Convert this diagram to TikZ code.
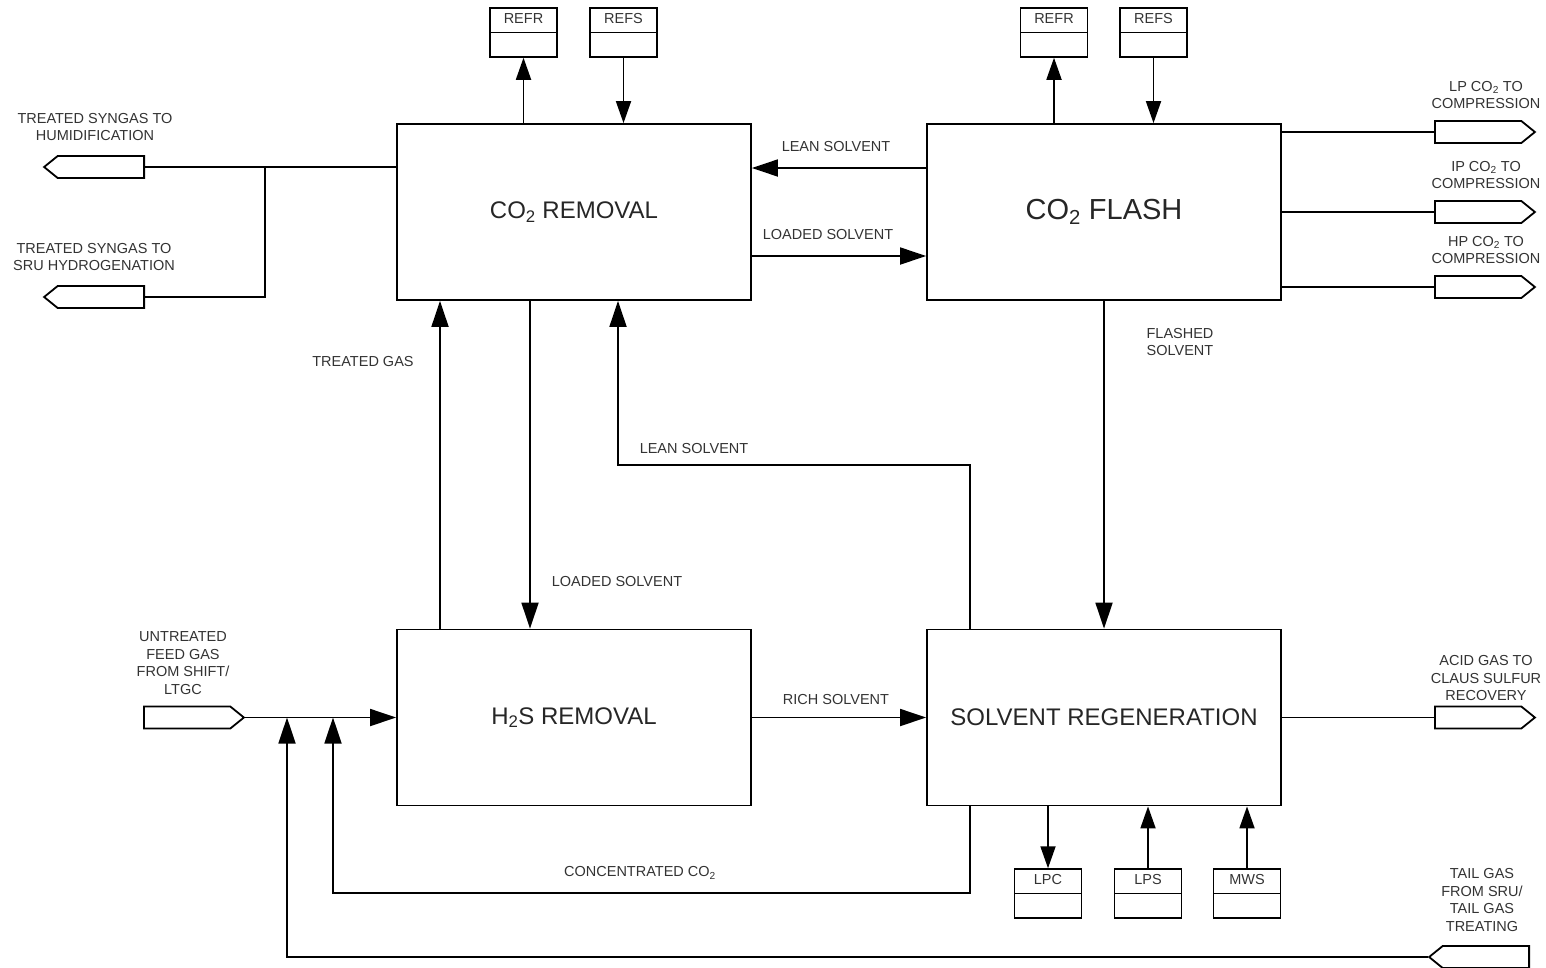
\documentclass[tikz,border=0pt]{standalone}
\usepackage{fontspec}
\setmainfont{Liberation Sans}
\usetikzlibrary{arrows.meta,shapes.symbols,shapes.multipart}

\begin{document}
\begin{tikzpicture}[x=1pt, y=-1pt, line width=1.8pt, line join=miter,
  unit/.style={draw, minimum width=354pt, minimum height=176pt, inner sep=0pt,
    font=\fontsize{24}{28}\selectfont, text=black!85},
  util/.style={draw, rectangle split, rectangle split parts=2, text width=59pt,
    align=center, inner xsep=4pt, inner ysep=3.5pt, line width=1.5pt,
    font=\fontsize{14.5}{16}\selectfont, text=black!80},
  tagE/.style={draw, signal, signal to=east, signal pointer angle=78,
    minimum width=100pt, minimum height=22pt, inner sep=0pt, anchor=west},
  tagW/.style={draw, signal, signal to=west, signal pointer angle=78,
    minimum width=100pt, minimum height=22pt, inner sep=0pt, anchor=east},
  flow/.style={-{Triangle[length=26pt,width=17pt]}},
  flowsm/.style={-{Triangle[length=22pt,width=15pt]}},
  lbl/.style={align=center, inner sep=0pt,
    font=\fontsize{14.5}{17.5}\selectfont, text=black!80}]

  %% ════ 主单元（四个大框）════
  \node[unit] (co2rem)    at (574,212)   {CO\textsubscript{2} REMOVAL};
  \node[unit, font=\fontsize{29}{33}\selectfont] (co2flash) at (1104,212) {CO\textsubscript{2} FLASH};
  \node[unit] (h2srem)    at (574,717.5) {H\textsubscript{2}S REMOVAL};
  \node[unit] (solvregen) at (1104,717.5) {SOLVENT REGENERATION};

  %% ════ 公用工程小框 ════
  \node[util] (refr1) at (523.5,32.5) {REFR\strut\nodepart{two}\strut};
  \node[util] (refs1) at (623.5,32.5) {REFS\strut\nodepart{two}\strut};
  \node[util] (refr2) at (1054,32.5)  {REFR\strut\nodepart{two}\strut};
  \node[util] (refs2) at (1153.5,32.5) {REFS\strut\nodepart{two}\strut};
  \node[util] (lpc)   at (1048,893.5) {LPC\strut\nodepart{two}\strut};
  \node[util] (lps)   at (1148,893.5) {LPS\strut\nodepart{two}\strut};
  \node[util] (mws)   at (1247,893.5) {MWS\strut\nodepart{two}\strut};

  %% ════ 边界物流标签（平头一侧定位）════
  \node[tagW] (syngashum) at (145,167)    {};
  \node[tagW] (syngassru) at (145,297)    {};
  \node[tagE] (feed)      at (143,717.5)  {};
  \node[tagE] (lpco2)     at (1434,132)   {};
  \node[tagE] (ipco2)     at (1434,212)   {};
  \node[tagE] (hpco2)     at (1434,287)   {};
  \node[tagE] (acidgas)   at (1434,717.5) {};
  \node[tagW] (tailgas)   at (1530,957)   {};

  %% ════ 折点 ════
  \coordinate (synsplit) at (265,167);
  \coordinate (leanbend) at (618,465);
  \coordinate (concbend) at (333,893);
  \coordinate (concin)   at (333,717.5);
  \coordinate (tailin)   at (287,717.5);

  %% ════ 连线 ════
  \draw[flowsm] (co2rem.north -| refr1.south) -- (refr1.south);
  \draw[flowsm] (refs1.south) -- (co2rem.north -| refs1.south);
  \draw[flowsm] (co2flash.north -| refr2.south) -- (refr2.south);
  \draw[flowsm] (refs2.south) -- (co2flash.north -| refs2.south);
  \draw[flowsm] (solvregen.south -| lpc.north) -- (lpc.north);
  \draw[flowsm] (lps.north) -- (solvregen.south -| lps.north);
  \draw[flowsm] (mws.north) -- (solvregen.south -| mws.north);

  \draw (co2rem.west |- syngashum.east) -- (syngashum.east);
  \draw (synsplit) |- (syngassru.east);

  \draw (co2flash.east |- lpco2.west) -- (lpco2.west);
  \draw (co2flash.east |- ipco2.west) -- (ipco2.west);
  \draw (co2flash.east |- hpco2.west) -- (hpco2.west);
  \draw (solvregen.east) -- (acidgas.west);

  \draw[flow] ([yshift=44pt]co2flash.west) -- ([yshift=44pt]co2rem.east);
  \draw[flow] ([yshift=-44pt]co2rem.east) -- ([yshift=-44pt]co2flash.west);
  \draw[flow] ([xshift=-134pt]h2srem.north) -- ([xshift=-134pt]co2rem.south);
  \draw[flow] ([xshift=-44pt]co2rem.south) -- ([xshift=-44pt]h2srem.north);
  \draw[flow] ([xshift=-134pt]solvregen.north) |- (leanbend) -- ([xshift=44pt]co2rem.south);
  \draw[flow] (co2flash.south) -- (solvregen.north);
  \draw[flow] (h2srem.east) -- (solvregen.west);
  \draw[flow] (feed.east) -- (h2srem.west);
  \draw[flow] ([xshift=-134pt]solvregen.south) |- (concbend) -- (concin);
  \draw[flow] (tailgas.west) -| (tailin);

  %% ════ 物流文字 ════
  \node[lbl] (lblhum)   at (95,127)   {TREATED SYNGAS TO\\HUMIDIFICATION};
  \node[lbl] (lblsru)   at (94,257)   {TREATED SYNGAS TO\\SRU HYDROGENATION};
  \node[lbl] (lbllp)    at (1486,95)  {LP CO\textsubscript{2} TO\\COMPRESSION};
  \node[lbl] (lblip)    at (1486,175) {IP CO\textsubscript{2} TO\\COMPRESSION};
  \node[lbl] (lblhp)    at (1486,250) {HP CO\textsubscript{2} TO\\COMPRESSION};
  \node[lbl] (lblacid)  at (1486,678) {ACID GAS TO\\CLAUS SULFUR\\RECOVERY};
  \node[lbl] (lbltail)  at (1482,900) {TAIL GAS\\FROM SRU/\\TAIL GAS\\TREATING};
  \node[lbl] (lblfeed)  at (183,663)  {UNTREATED\\FEED GAS\\FROM SHIFT/\\LTGC};
  \node[lbl] (lbllean1) at (836,147)  {LEAN SOLVENT};
  \node[lbl] (lblload1) at (828,235)  {LOADED SOLVENT};
  \node[lbl] (lbltreat) at (363,361)  {TREATED GAS};
  \node[lbl] (lblload2) at (617,581)  {LOADED SOLVENT};
  \node[lbl] (lbllean2) at (694,448)  {LEAN SOLVENT};
  \node[lbl] (lblflash) at (1180,342) {FLASHED\\SOLVENT};
  \node[lbl] (lblrich)  at (836,699)  {RICH SOLVENT};
  \node[lbl] (lblconc)  at (640,873)  {CONCENTRATED CO\textsubscript{2}};

  % 钉死画布
  \pgfresetboundingbox
  \path[use as bounding box] (0,0) rectangle (1546,967);
\end{tikzpicture}
\end{document}
